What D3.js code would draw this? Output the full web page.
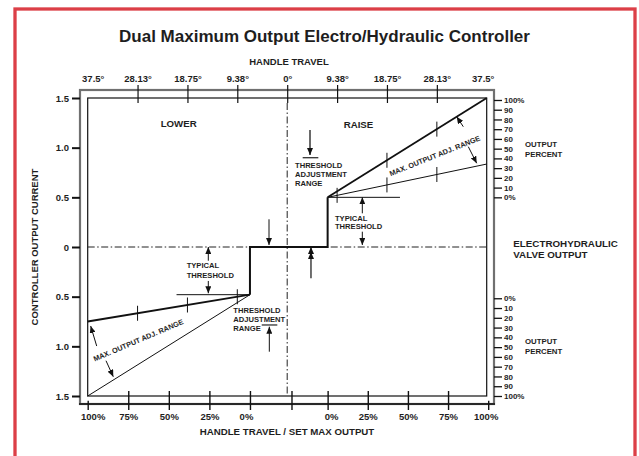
<!DOCTYPE html>
<html lang="en">
<head>
<meta charset="utf-8">
<title>Dual Maximum Output Electro/Hydraulic Controller</title>
<script src="https://d3js.org/d3.v7.min.js"></script>
<style>
  body { margin:0; background:#fff; }
  svg text { font-family:"Liberation Sans", Arial, Helvetica, sans-serif; font-weight:bold; fill:#1e1e1e; }
  .axis .domain { display:none; }
  .axis line { stroke:#111; }
  .dashdot { stroke:#222; stroke-width:1; stroke-dasharray:7,2.5,1.5,2.5; fill:none; }
  .curve { fill:none; stroke:#111; }
</style>
</head>
<body>
<script>
var w = 639, h = 456;

// handle travel in degrees, negative = LOWER side
var travelTicks = [-37.5, -28.13, -18.75, -9.38, 0, 9.38, 18.75, 28.13, 37.5];
var currentTicks = [1.5, 1.0, 0.5, 0, -0.5, -1.0, -1.5];
var currentLabels = ['1.5', '1.0', '0.5', '0', '0.5', '1.0', '1.5'];
var percentTicks = [0, 10, 20, 30, 40, 50, 60, 70, 80, 90, 100];
var setMaxTicks = [100, 75, 50, 25, 0];

// valve steps off zero at these handle positions
var lowerStep = -7.0, raiseStep = 7.6;
var lowerThreshold = -0.48, raiseThreshold = 0.5;

// curves as [degrees, current]
var stepCurve = [[lowerStep, lowerThreshold], [lowerStep, 0], [raiseStep, 0], [raiseStep, raiseThreshold]];
var raiseMax = [[raiseStep, raiseThreshold], [37.5, 1.5]];
var raiseMin = [[raiseStep, raiseThreshold], [37.5, 0.835]];
var lowerMax = [[lowerStep, lowerThreshold], [-37.5, -1.5]];
var lowerMin = [[lowerStep, lowerThreshold], [-37.5, -0.75]];
var raiseThresholdLine = [[raiseStep, raiseThreshold], [21.2, raiseThreshold]];
var lowerThresholdLine = [[-20.8, lowerThreshold], [lowerStep, lowerThreshold]];
var raiseMaxMarks = [18.75, 28.13];
var raiseMinMarks = [9.38, 18.75, 28.13];
var lowerMinMarks = [-28.13, -18.75, -9.38];
var midTick = 0.9;

var x = d3.scaleLinear().domain([-37.5, 37.5]).range([87.7, 486.7]);
var y = d3.scaleLinear().domain([-1.5, 1.5]).range([396, 98]);
var pctL = d3.scaleLinear().domain([100, 0]).range([x(-37.5), x(lowerStep)]);
var pctR = d3.scaleLinear().domain([0, 100]).range([x(raiseStep), x(37.5) + 1.5]);
var pctUp = d3.scaleLinear().domain([0, 100]).range([y(0.5), y(1.48)]);
var pctLow = d3.scaleLinear().domain([0, 100]).range([y(-0.516), y(-1.5)]);
var line = d3.line().x(function(d){ return x(d[0]); }).y(function(d){ return y(d[1]); });

var svg = d3.select('body').append('svg')
    .attr('width', w)
    .attr('height', h);

svg.append('defs').append('marker')
    .attr('id', 'head')
    .attr('viewBox', '0 0 10 10')
    .attr('refX', 10).attr('refY', 5)
    .attr('markerWidth', 7).attr('markerHeight', 6)
    .attr('markerUnits', 'userSpaceOnUse')
    .attr('orient', 'auto')
    .attr('preserveAspectRatio', 'none')
  .append('path').attr('d', 'M0,0L10,5L0,10z').attr('fill', '#111');

// red border (bottom edge runs off the page)
svg.append('rect')
    .attr('x', 15).attr('y', 9).attr('width', 620).attr('height', 470)
    .attr('fill', 'none').attr('stroke', '#dc3f47').attr('stroke-width', 3.3);

svg.append('text').attr('x', 324.5).attr('y', 41.7).attr('text-anchor', 'middle')
    .style('font-size', '17px').text('Dual Maximum Output Electro/Hydraulic Controller');
svg.append('text').attr('x', 289).attr('y', 65.3).attr('text-anchor', 'middle')
    .style('font-size', '9.5px').text('HANDLE TRAVEL');

// frames
var fx0 = x(-37.5) - 7.7, fx1 = x(37.5) + 7.3, fy0 = y(1.5) - 8, fy1 = y(-1.5) + 8;
svg.append('rect')
    .attr('x', fx0).attr('y', fy0).attr('width', fx1 - fx0).attr('height', fy1 - fy0)
    .attr('fill', 'none').attr('stroke', '#707070').attr('stroke-width', 2.2);
svg.append('line')
    .attr('x1', fx0 - 1).attr('x2', fx1 + 1).attr('y1', fy1).attr('y2', fy1)
    .attr('stroke', '#111').attr('stroke-width', 1.6);
svg.append('rect')
    .attr('x', x(-37.5)).attr('y', y(1.5)).attr('width', x(37.5) - x(-37.5)).attr('height', y(-1.5) - y(1.5))
    .attr('fill', 'none').attr('stroke', '#111').attr('stroke-width', 1.2);

// dash-dot zero lines
svg.append('line').attr('class', 'dashdot')
    .attr('x1', x(-37.5)).attr('x2', x(37.5)).attr('y1', y(0)).attr('y2', y(0));
svg.append('line').attr('class', 'dashdot')
    .attr('x1', x(0)).attr('x2', x(0)).attr('y1', y(1.5) + 5).attr('y2', y(-1.5));

// top axis
var topAxis = svg.append('g').attr('class', 'axis')
    .attr('transform', 'translate(0,' + (y(1.5) + 5) + ')')
    .call(d3.axisTop(x).tickValues(travelTicks).tickSize(18).tickPadding(3)
      .tickFormat(function(d){ return Math.abs(d) + '°'; }));
topAxis.selectAll('text').style('font-size', '9.5px');
topAxis.selectAll('line').attr('stroke-width', 1.2);
topAxis.selectAll('.tick').filter(function(d){ return Math.abs(d) === 37.5; })
    .each(function(d){
      d3.select(this).select('line').remove();
      d3.select(this).select('text').attr('dx', d < 0 ? 5 : -4);
    });

// left axis
var leftAxis = svg.append('g').attr('class', 'axis')
    .attr('transform', 'translate(' + fx0 + ',0)')
    .call(d3.axisLeft(y).tickValues(currentTicks).tickSize(8).tickPadding(3)
      .tickFormat(function(d, i){ return currentLabels[i]; }));
leftAxis.selectAll('text').style('font-size', '9.5px');
leftAxis.selectAll('line').attr('stroke-width', 2);

svg.append('text')
    .attr('transform', 'translate(38,' + y(0) + ') rotate(-90)')
    .attr('text-anchor', 'middle').style('font-size', '9.5px')
    .text('CONTROLLER OUTPUT CURRENT');

// bottom axes
function bottomAxis(scale, dxFirst, dxLast, first, last) {
  var g = svg.append('g').attr('class', 'axis')
      .attr('transform', 'translate(0,' + (y(-1.5) - 5) + ')')
      .call(d3.axisBottom(scale).tickValues(setMaxTicks).tickSize(19).tickPadding(3.5)
        .tickFormat(function(d){ return d + '%'; }));
  g.selectAll('text').style('font-size', '9.5px');
  g.selectAll('line').attr('stroke-width', 1.4);
  g.selectAll('.tick').filter(function(d){ return d === 100; }).select('line').attr('y1', 9.7);
  g.selectAll('.tick').filter(function(d){ return d === first; }).select('text').attr('dx', dxFirst);
  g.selectAll('.tick').filter(function(d){ return d === last; }).select('text').attr('dx', dxLast);
}
bottomAxis(pctL, 5, -4, 100, 0);
bottomAxis(pctR, 3.5, -2.5, 0, 100);
svg.append('line')
    .attr('x1', x(midTick)).attr('x2', x(midTick))
    .attr('y1', y(-1.5) - 5).attr('y2', y(-1.5) + 14)
    .attr('stroke', '#111').attr('stroke-width', 1.4);

svg.append('text').attr('x', 287).attr('y', 435).attr('text-anchor', 'middle')
    .style('font-size', '9.7px').text('HANDLE TRAVEL / SET MAX OUTPUT');

// right percent axes
[pctUp, pctLow].forEach(function(s){
  var g = svg.append('g').attr('class', 'axis')
      .attr('transform', 'translate(' + fx1 + ',0)')
      .call(d3.axisRight(s).tickValues(percentTicks).tickSize(8).tickPadding(2)
        .tickFormat(function(d){ return (d === 0 || d === 100) ? d + '%' : d; }));
  g.selectAll('text').style('font-size', '8px');
  g.selectAll('line').attr('stroke-width', 1.3);
});

// curves
svg.append('path').datum(stepCurve).attr('class', 'curve').attr('d', line).attr('stroke-width', 2);
svg.append('path').datum(raiseMax).attr('class', 'curve').attr('d', line).attr('stroke-width', 1.8);
svg.append('path').datum(raiseMin).attr('class', 'curve').attr('d', line).attr('stroke-width', 1);
svg.append('path').datum(lowerMin).attr('class', 'curve').attr('d', line).attr('stroke-width', 1.8);
svg.append('path').datum(lowerMax).attr('class', 'curve').attr('d', line).attr('stroke-width', 1);
svg.append('path').datum(raiseThresholdLine).attr('class', 'curve').attr('d', line).attr('stroke-width', 1);
svg.append('path').datum(lowerThresholdLine).attr('class', 'curve').attr('d', line).attr('stroke-width', 1);

function along(curve, d) {
  var a = curve[0], b = curve[1];
  return a[1] + (d - a[0]) / (b[0] - a[0]) * (b[1] - a[1]);
}
function marks(curve, degs) {
  svg.selectAll(null).data(degs).enter().append('line')
      .attr('x1', function(d){ return x(d); })
      .attr('x2', function(d){ return x(d); })
      .attr('y1', function(d){ return y(along(curve, d)) - 7.5; })
      .attr('y2', function(d){ return y(along(curve, d)) + 7.5; })
      .attr('stroke', '#111').attr('stroke-width', 1);
}
marks(raiseMax, raiseMaxMarks);
marks(raiseMin, raiseMinMarks);
marks(lowerMin, lowerMinMarks);

// annotations
function label(lines, d, c, size, lh, anchor) {
  var t = svg.append('text').attr('text-anchor', anchor || 'start').style('font-size', size + 'px');
  lines.forEach(function(s, i){
    t.append('tspan').attr('x', x(d)).attr('y', y(c) + i * lh).text(s);
  });
  return t;
}
function arrow(d1, c1, d2, c2, color, width) {
  svg.append('line')
      .attr('x1', x(d1)).attr('y1', y(c1)).attr('x2', x(d2)).attr('y2', y(c2))
      .attr('stroke', color || '#111').attr('stroke-width', width || 1)
      .attr('marker-end', 'url(#head)');
}
function bar(d1, d2, c) {
  svg.append('line').attr('x1', x(d1)).attr('x2', x(d2)).attr('y1', y(c)).attr('y2', y(c))
      .attr('stroke', '#333').attr('stroke-width', 1.3);
}

label(['LOWER'], -20.4, 1.205, 9.7, 0, 'middle');
label(['RAISE'], 13.4, 1.195, 9.7, 0, 'middle');

arrow(4.29, 1.178, 4.29, 0.926, '#6a6a6a', 2);
bar(2.91, 5.85, 0.899);
label(['THRESHOLD', 'ADJUSTMENT', 'RANGE'], 1.47, 0.792, 7.6, 8.9);

arrow(-3.42, 0.279, -3.42, 0.02);
arrow(4.47, -0.315, 4.47, -0.05, '#111', 1.2);
arrow(4.47, -0.08, 4.47, 0.0, '#111', 1.2);

arrow(-14.83, -0.138, -14.83, 0.0);
label(['TYPICAL', 'THRESHOLD'], -18.9, -0.214, 7.6, 10);
arrow(-14.83, -0.342, -14.83, -0.466);

label(['THRESHOLD', 'ADJUSTMENT', 'RANGE'], -10.13, -0.667, 7.6, 8.7);
bar(-4.79, -1.86, -0.785);
arrow(-3.36, -1.054, -3.36, -0.802);

label(['TYPICAL', 'THRESHOLD'], 8.98, 0.265, 7.6, 8.6);
arrow(14.12, 0.339, 14.12, 0.5);
arrow(14.12, 0.154, 14.12, 0.02);

svg.append('text')
    .attr('transform', 'translate(' + x(27.73) + ',' + y(0.918) + ') rotate(-21.8)')
    .attr('text-anchor', 'middle').attr('dy', '0.35em').style('font-size', '7.3px')
    .text('MAX. OUTPUT ADJ. RANGE');
arrow(33.1, 1.211, 31.86, 1.312);
arrow(34.04, 1.01, 35.62, 0.843);

svg.append('text')
    .attr('transform', 'translate(' + x(-27.99) + ',' + y(-0.939) + ') rotate(-23)')
    .attr('text-anchor', 'middle').attr('dy', '0.35em').style('font-size', '7.3px')
    .text('MAX. OUTPUT ADJ. RANGE');
arrow(-35.81, -0.997, -36.94, -0.795);
arrow(-34.06, -1.145, -32.69, -1.306);

// right-hand captions
function caption(lines, px, py, size, lh) {
  var t = svg.append('text').style('font-size', size + 'px');
  lines.forEach(function(s, i){
    t.append('tspan').attr('x', px).attr('y', py + i * lh).text(s);
  });
}
caption(['OUTPUT', 'PERCENT'], 525, 146.7, 7.8, 10);
caption(['OUTPUT', 'PERCENT'], 525, 344, 7.8, 10);
caption(['ELECTROHYDRAULIC', 'VALVE OUTPUT'], 513.3, 246.7, 9.8, 10.8);
</script>
</body>
</html>
